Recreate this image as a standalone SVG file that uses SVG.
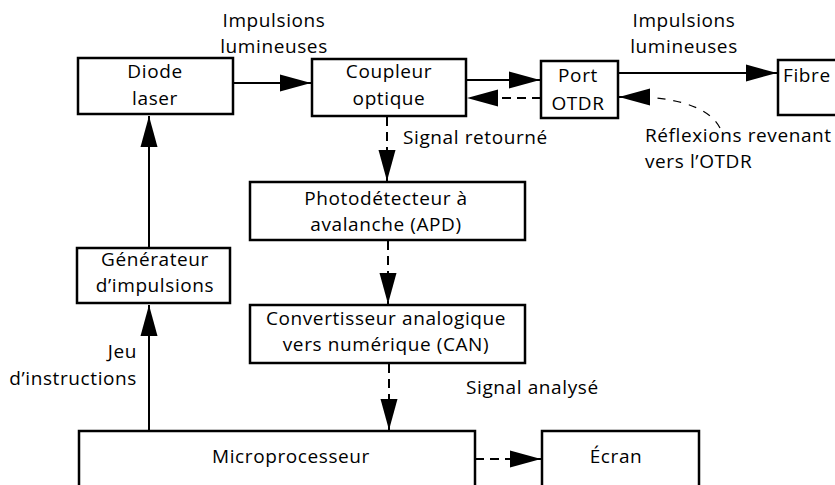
<svg xmlns="http://www.w3.org/2000/svg" width="835" height="485" viewBox="0 0 835 485">
<style>
.box{fill:#fff;stroke:#000;stroke-width:2.5}
.t{font-family:"Open Sans","Noto Sans","Liberation Sans",sans-serif;font-size:19px;letter-spacing:0.6px;fill:#000}
.m{text-anchor:middle}
.e{text-anchor:end}
.ln{fill:none;stroke:#000;stroke-width:2}
.dash{stroke-dasharray:9 6}
.thin{fill:none;stroke:#000;stroke-width:1.2;stroke-dasharray:8 8}
</style>
<defs>
<marker id="ah" markerUnits="userSpaceOnUse" markerWidth="32" markerHeight="18" refX="31" refY="8.5" orient="auto" overflow="visible">
<path d="M0,0 L31,8.5 L0,17 z" fill="#000"/>
</marker>
</defs>
<rect width="835" height="485" fill="#fff"/>
<g id="connectors">
<line class="ln" x1="233" y1="83" x2="311" y2="83" marker-end="url(#ah)"/>
<line class="ln" x1="466" y1="80" x2="540" y2="80" marker-end="url(#ah)"/>
<line class="ln dash" x1="541" y1="98" x2="467" y2="98" marker-end="url(#ah)"/>
<line class="ln" x1="618" y1="73" x2="777" y2="73" marker-end="url(#ah)"/>
<path class="thin" d="M720,128 Q706,101 645,97"/>
<line class="ln" x1="645" y1="97" x2="619" y2="97" marker-end="url(#ah)"/>
<line class="ln dash" x1="387" y1="117" x2="387" y2="181" marker-end="url(#ah)"/>
<line class="ln dash" x1="388" y1="241" x2="388" y2="304" marker-end="url(#ah)"/>
<line class="ln dash" x1="389" y1="364" x2="389" y2="430" marker-end="url(#ah)"/>
<line class="ln dash" x1="475" y1="459" x2="541" y2="459" marker-end="url(#ah)"/>
<line class="ln" x1="149" y1="431" x2="149" y2="305" marker-end="url(#ah)"/>
<line class="ln" x1="149" y1="248" x2="149" y2="116" marker-end="url(#ah)"/>
<text class="t m" x="274" y="27">Impulsions</text>
<text class="t m" x="274" y="53">lumineuses</text>
<text class="t m" x="684" y="27">Impulsions</text>
<text class="t m" x="684" y="53">lumineuses</text>
<text class="t" x="403" y="144">Signal retourné</text>
<text class="t" x="645" y="142">Réflexions revenant</text>
<text class="t" x="645" y="168">vers l’OTDR</text>
<text class="t" x="466" y="394">Signal analysé</text>
<text class="t e" x="137" y="358">Jeu</text>
<text class="t e" x="137" y="385">d’instructions</text>
</g>
<g id="diode">
<rect class="box" x="78" y="58" width="155" height="56"/>
<text class="t m" x="155" y="78">Diode</text>
<text class="t m" x="155" y="105">laser</text>
</g>
<g id="coupleur">
<rect class="box" x="312" y="59" width="154" height="57"/>
<text class="t m" x="389" y="78">Coupleur</text>
<text class="t m" x="389" y="105">optique</text>
</g>
<g id="port">
<rect class="box" x="541" y="61" width="77" height="57"/>
<text class="t m" x="578" y="82">Port</text>
<text class="t m" x="578" y="110">OTDR</text>
</g>
<g id="fibre">
<rect class="box" x="778" y="60" width="80" height="55"/>
<text class="t" x="783" y="82">Fibre</text>
</g>
<g id="apd">
<rect class="box" x="250" y="182" width="275" height="58"/>
<text class="t m" x="386" y="205">Photodétecteur à</text>
<text class="t m" x="386" y="231">avalanche (APD)</text>
</g>
<g id="can">
<rect class="box" x="250" y="305" width="275" height="58"/>
<text class="t m" x="386" y="325">Convertisseur analogique</text>
<text class="t m" x="386" y="351">vers numérique (CAN)</text>
</g>
<g id="generateur">
<rect class="box" x="77" y="248" width="153" height="55"/>
<text class="t m" x="155" y="266">Générateur</text>
<text class="t m" x="155" y="292">d’impulsions</text>
</g>
<g id="micro">
<rect class="box" x="79" y="431" width="396" height="70"/>
<text class="t m" x="291" y="463">Microprocesseur</text>
</g>
<g id="ecran">
<rect class="box" x="542" y="431" width="157" height="70"/>
<text class="t m" x="616" y="463">Écran</text>
</g>
</svg>
